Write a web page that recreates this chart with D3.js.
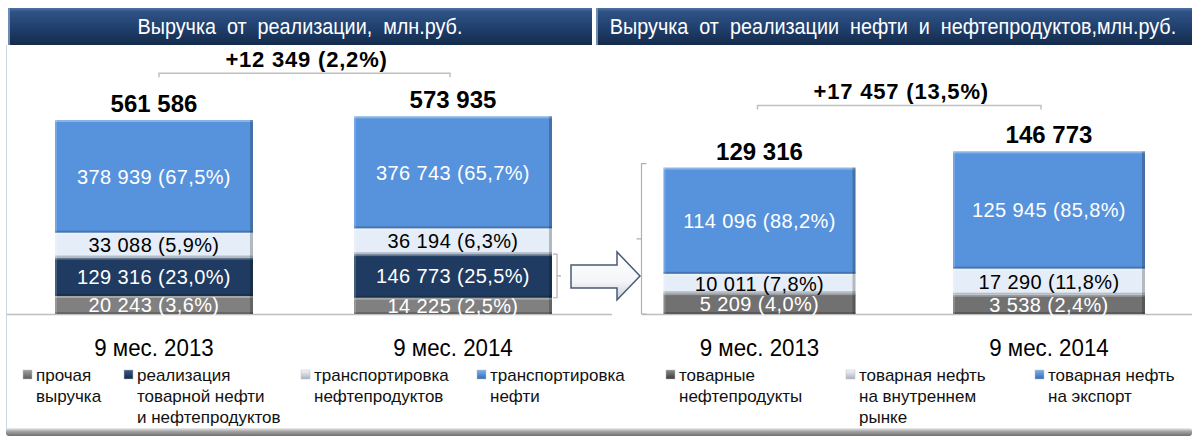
<!DOCTYPE html>
<meta charset="utf-8">
<script src="https://d3js.org/d3.v7.min.js"></script>
<style>
    body {
        margin: 0;
        background: #fff;
    }
    text {
        font-family: "Liberation Sans", Arial, sans-serif;
    }
    .narrow {
        font-family: "Liberation Sans Narrow", "Arial Narrow", "Liberation Sans", sans-serif;
    }
</style>
<div id="chart"></div>
<script>
    var periods = ["9 мес. 2013", "9 мес. 2014"];

    // Выручка от реализации, млн.руб.
    var revOther = [20243, 14225];
    var revOilSales = [129316, 146773];
    var revProdTransport = [33088, 36194];
    var revOilTransport = [378939, 376743];
    var revOtherPct = [3.6, 2.5];
    var revOilSalesPct = [23.0, 25.5];
    var revProdTransportPct = [5.9, 6.3];
    var revOilTransportPct = [67.5, 65.7];
    var revTotal = [561586, 573935];
    var revLegend = [
        ["прочая", "выручка"],
        ["реализация", "товарной нефти", "и нефтепродуктов"],
        ["транспортировка", "нефтепродуктов"],
        ["транспортировка", "нефти"]
    ];

    // Выручка от реализации нефти и нефтепродуктов, млн.руб.
    var oilProducts = [5209, 3538];
    var oilDomestic = [10011, 17290];
    var oilExport = [114096, 125945];
    var oilProductsPct = [4.0, 2.4];
    var oilDomesticPct = [7.8, 11.8];
    var oilExportPct = [88.2, 85.8];
    var oilTotal = [129316, 146773];
    var oilLegend = [
        ["товарные", "нефтепродукты"],
        ["товарная нефть", "на внутреннем", "рынке"],
        ["товарная нефть", "на экспорт"]
    ];

    var titles = ["Выручка  от  реализации,  млн.руб.", "Выручка  от  реализации  нефти  и  нефтепродуктов,млн.руб."];

    var ru = d3.formatLocale({
        decimal: ",",
        thousands: " ",
        grouping: [3],
        currency: ["", ""]
    });
    var fmtNum = ru.format(",d");
    var fmtPct = ru.format(".1f");

    var W = 1192,
        H = 439,
        base = 314;

    var svg = d3.select("#chart").append("svg")
        .attr("width", W)
        .attr("height", H);
    var defs = svg.append("defs");

    // narrow look: squeeze text horizontally around its anchor x
    function squeeze(sel, sx) {
        sel.attr("transform", function() {
            var x = +d3.select(this).attr("x");
            return "translate(" + x + ",0) scale(" + sx + ",1) translate(" + (-x) + ",0)";
        });
    }

    function grad(id, stops, horizontal) {
        var g = defs.append("linearGradient").attr("id", id)
            .attr("x1", 0).attr("y1", 0)
            .attr("x2", horizontal ? 1 : 0).attr("y2", horizontal ? 0 : 1);
        stops.forEach(function(s) {
            g.append("stop").attr("offset", s[0]).attr("stop-color", s[1]);
        });
    }
    grad("hdr", [[0, "#4f72a3"], [0.1, "#2f5286"], [0.5, "#21416f"], [1, "#142b4b"]]);
    grad("band", [[0, "#f0f0f0"], [0.4, "#a6a6a6"], [1, "#6f6f6f"]]);
    grad("arrowFill", [[0, "#ffffff"], [0.6, "#f4f6f9"], [1, "#c9d0da"]]);
    grad("lgGrey", [[0, "#a0a0a0"], [1, "#5a5a5a"]]);
    grad("lgNavy", [[0, "#3a5884"], [1, "#142a4a"]]);
    grad("lgLight", [[0, "#f4f6f9"], [1, "#a8b2c0"]]);
    grad("lgBlue", [[0, "#7fb0ea"], [1, "#2f6cb8"]]);
    grad("lgDark", [[0, "#8a8a8a"], [1, "#3a3a3a"]]);

    // panel frame
    svg.append("line")
        .attr("x1", 6.5).attr("x2", 6.5).attr("y1", 45).attr("y2", 430)
        .attr("stroke", "#cdd5e0");
    svg.append("rect")
        .attr("x", 6).attr("y", 428).attr("width", W - 6).attr("height", 8)
        .attr("rx", 3)
        .attr("fill", "url(#band)");

    // headers
    var headers = [{ x: 8, w: 584 }, { x: 596, w: W - 596 }];
    headers.forEach(function(hd, i) {
        svg.append("rect")
            .attr("x", hd.x).attr("y", 8).attr("width", hd.w).attr("height", 37)
            .attr("fill", "url(#hdr)");
        svg.append("rect")
            .attr("x", hd.x).attr("y", 8).attr("width", 2).attr("height", 37)
            .attr("fill", "#6f8bb3");
        svg.append("text")
            .attr("class", "narrow")
            .attr("x", hd.x + hd.w / 2 + (i ? -1 : 0))
            .attr("y", 34)
            .attr("text-anchor", "middle")
            .attr("fill", "#fff")
            .attr("font-size", "22px")
            .style("white-space", "pre")
            .text(titles[i])
            .call(squeeze, 0.9);
    });

    function drawPanel(p) {
        var x = d3.scalePoint().domain(periods).range(p.centers);
        var g = svg.append("g");

        // baseline
        g.append("line")
            .attr("x1", p.baseFrom).attr("x2", p.baseTo)
            .attr("y1", base + 0.5).attr("y2", base + 0.5)
            .attr("stroke", "#bfbfbf").attr("stroke-width", 1.5);

        var tops = [];
        var segs = [];
        periods.forEach(function(period, i) {
            var y0 = base;
            p.series.forEach(function(s, k) {
                var h = p.h(s.values[i]) + s.pad;
                segs.push({ i: i, k: k, s: s, y: y0 - h, h: h, cx: x(period) });
                y0 -= h;
            });
            tops.push(y0);
        });

        var seg = g.selectAll(".seg").data(segs).enter().append("g").attr("class", "seg");
        seg.append("rect")
            .attr("x", function(d) { return d.cx - p.barW / 2; })
            .attr("y", function(d) { return d.y; })
            .attr("width", p.barW)
            .attr("height", function(d) { return d.h; })
            .attr("fill", function(d) { return d.s.color; });
        // bevel edges
        seg.append("rect")
            .attr("x", function(d) { return d.cx - p.barW / 2; })
            .attr("y", function(d) { return d.y; })
            .attr("width", p.barW).attr("height", 2)
            .attr("fill", "#fff").attr("opacity", 0.3);
        seg.append("rect")
            .attr("x", function(d) { return d.cx - p.barW / 2; })
            .attr("y", function(d) { return d.y + d.h - 2; })
            .attr("width", p.barW).attr("height", 2)
            .attr("fill", "#000").attr("opacity", 0.2);
        seg.append("rect")
            .attr("x", function(d) { return d.cx + p.barW / 2 - 3; })
            .attr("y", function(d) { return d.y; })
            .attr("width", 3)
            .attr("height", function(d) { return d.h; })
            .attr("fill", "#000").attr("opacity", 0.22);
        seg.append("rect")
            .attr("x", function(d) { return d.cx - p.barW / 2; })
            .attr("y", function(d) { return d.y; })
            .attr("width", 2)
            .attr("height", function(d) { return d.h; })
            .attr("fill", "#fff").attr("opacity", 0.18);
        seg.append("text")
            .attr("x", function(d) { return d.cx; })
            .attr("y", function(d) { return d.y + d.h / 2; })
            .attr("dy", "0.36em")
            .attr("text-anchor", "middle")
            .attr("font-size", "20px")
            .attr("letter-spacing", "0.4px")
            .attr("fill", function(d) { return d.s.text; })
            .text(function(d) {
                return fmtNum(d.s.values[d.i]) + " (" + fmtPct(d.s.pct[d.i]) + "%)";
            });

        // totals
        g.selectAll(".total").data(p.total).enter().append("text")
            .attr("class", "total")
            .attr("x", function(d, i) { return x(periods[i]); })
            .attr("y", function(d, i) { return tops[i] - 8; })
            .attr("text-anchor", "middle")
            .attr("font-size", "24px")
            .attr("font-weight", "bold")
            .text(function(d) { return fmtNum(d); });

        // change bracket
        var by = d3.min(tops) - p.brkGap;
        var bx0 = x(periods[0]) + p.brk[0],
            bx1 = x(periods[1]) + p.brk[1];
        g.append("path")
            .attr("d", "M" + bx0 + "," + (by + 4) + "V" + by + "H" + bx1 + "V" + (by + 4))
            .attr("fill", "none").attr("stroke", "#c0c0c0").attr("stroke-width", 1.5);
        var diff = p.total[1] - p.total[0];
        g.append("text")
            .attr("x", (bx0 + bx1) / 2 + 2)
            .attr("y", by - 6)
            .attr("text-anchor", "middle")
            .attr("font-size", "22px")
            .attr("font-weight", "bold")
            .attr("letter-spacing", "0.8px")
            .text("+" + fmtNum(diff) + " (" + fmtPct(diff / p.total[0] * 100) + "%)");

        // period labels
        g.selectAll(".period").data(periods).enter().append("text")
            .attr("class", "narrow period")
            .attr("x", function(d) { return x(d); })
            .attr("y", 356)
            .attr("text-anchor", "middle")
            .attr("font-size", "24px")
            .text(function(d) { return d; })
            .call(squeeze, 0.93);

        // legend
        var lg = g.selectAll(".lg").data(p.series).enter().append("g")
            .attr("class", "lg")
            .attr("transform", function(d, k) { return "translate(" + p.legendX[k] + ",0)"; });
        lg.append("rect")
            .attr("x", 0).attr("y", 370).attr("width", 9).attr("height", 9)
            .attr("fill", function(d) { return d.legendFill; })
            .attr("stroke", "#bfbfbf").attr("stroke-width", 0.5);
        lg.each(function(d) {
            d3.select(this).selectAll("text").data(d.legend).enter().append("text")
                .attr("class", "narrow")
                .attr("x", 13)
                .attr("y", function(t, j) { return 381 + j * 21; })
                .attr("font-size", "17px")
                .attr("fill", "#111")
                .text(function(t) { return t; });
        });

        return { x: x, segs: segs, tops: tops };
    }

    var left = drawPanel({
        centers: [154, 453],
        barW: 198,
        baseFrom: 7,
        baseTo: 612,
        h: d3.scaleLinear().domain([0, 380000]).range([0, 113]),
        total: revTotal,
        brk: [5, -3],
        brkGap: 43,
        legendX: [23, 124, 301, 477],
        series: [
            { values: revOther, pct: revOtherPct, color: "#808080", text: "#fff", pad: 12, legend: revLegend[0], legendFill: "url(#lgGrey)" },
            { values: revOilSales, pct: revOilSalesPct, color: "#1f3b61", text: "#fff", pad: 0, legend: revLegend[1], legendFill: "url(#lgNavy)" },
            { values: revProdTransport, pct: revProdTransportPct, color: "#e4edf8", text: "#000", pad: 15, legend: revLegend[2], legendFill: "url(#lgLight)" },
            { values: revOilTransport, pct: revOilTransportPct, color: "#5793dc", text: "#fff", pad: 0, legend: revLegend[3], legendFill: "url(#lgBlue)" }
        ]
    });

    var right = drawPanel({
        centers: [759.5, 1049],
        barW: 192,
        baseFrom: 642,
        baseTo: W,
        h: d3.scaleLinear().domain([0, 130000]).range([0, 121]),
        total: oilTotal,
        brk: [-2, -8],
        brkGap: 46,
        legendX: [666, 846, 1035],
        series: [
            { values: oilProducts, pct: oilProductsPct, color: "#717171", text: "#fff", pad: 16, legend: oilLegend[0], legendFill: "url(#lgDark)" },
            { values: oilDomestic, pct: oilDomesticPct, color: "#e4edf8", text: "#000", pad: 10, legend: oilLegend[1], legendFill: "url(#lgLight)" },
            { values: oilExport, pct: oilExportPct, color: "#5793dc", text: "#fff", pad: 0, legend: oilLegend[2], legendFill: "url(#lgBlue)" }
        ]
    });

    // small bracket around the oil sales segment of the second bar
    var navy2 = left.segs.filter(function(d) { return d.i === 1 && d.k === 1; })[0];
    var sbx = navy2.cx + 198 / 2 + 1;
    svg.append("path")
        .attr("d", "M" + sbx + "," + navy2.y + "H" + (sbx + 4) + "V" + (navy2.y + navy2.h) + "H" + sbx +
            "M" + (sbx + 4) + "," + (navy2.y + navy2.h / 2) + "h4")
        .attr("fill", "none").attr("stroke", "#b0b0b0").attr("stroke-width", 1.2);

    // big bracket left of the first oil bar
    var bbx = right.x(periods[0]) - 192 / 2 - 22;
    var bTop = right.tops[0] - 4;
    svg.append("path")
        .attr("d", "M" + (bbx + 5) + "," + bTop + "H" + bbx + "V" + base + "H" + (bbx + 5) +
            "M" + bbx + "," + ((bTop + base) / 2) + "h-5")
        .attr("fill", "none").attr("stroke", "#b0b0b0").attr("stroke-width", 1.2);

    // arrow from the oil sales segment to the second panel
    var ay = navy2.y + navy2.h / 2;
    svg.append("path")
        .attr("d", "M571," + (ay - 11) + "H617V" + (ay - 24) + "L640," + ay + "L617," + (ay + 24) +
            "V" + (ay + 12) + "H571Z")
        .attr("fill", "url(#arrowFill)")
        .attr("stroke", "#4a5a73").attr("stroke-width", 1.5)
        .attr("stroke-linejoin", "miter");
</script>
